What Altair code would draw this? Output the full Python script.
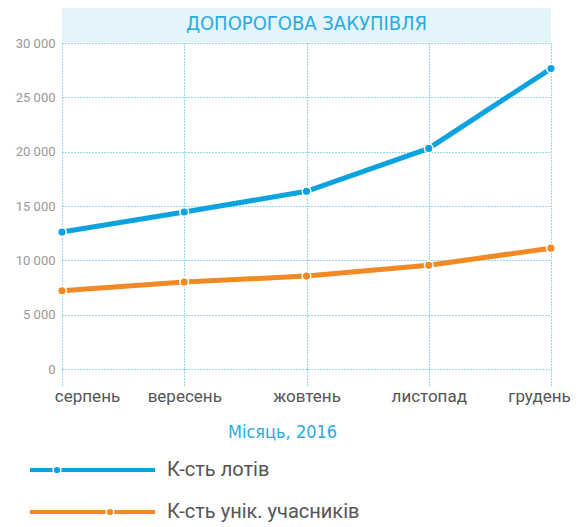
import altair as alt
import pandas as pd

months = ["серпень", "вересень", "жовтень", "листопад", "грудень"]
series = ["К-сть лотів", "К-сть унік. учасників"]
lots = [12600, 14450, 16350, 20300, 27650]
participants = [7200, 8000, 8550, 9550, 11120]
y_ticks = [0, 5000, 10000, 15000, 20000, 25000, 30000]
title_text = "ДОПОРОГОВА ЗАКУПІВЛЯ"
x_title = "Місяць, 2016"
colors = ["#0aa3df", "#f18a24"]

df = pd.DataFrame({
    "month": months * 2,
    "series": [series[0]] * len(months) + [series[1]] * len(months),
    "value": lots + participants,
})

W, H = 489, 326
GRID = "#2db0e6"
ACCENT = "#29abe2"
FONT = "Roboto"
COND_FONT = "'Liberation Sans Narrow', 'DejaVu Sans Condensed', Roboto"

x_enc = alt.X(
    "month:N", sort=months,
    scale=alt.Scale(type="point", padding=0),
    axis=alt.Axis(
        grid=True, gridDash=[1, 2], gridColor=GRID, gridWidth=1,
        domain=False, ticks=True, tickSize=17, tickDash=[1, 2], tickColor=GRID,
        labelAngle=0, labelFontSize=17, labelColor="#555555", labelFont=FONT,
        labelPadding=2,
        labelOffset={"condition": [
            {"test": f"datum.value === '{months[0]}'", "value": 25},
            {"test": f"datum.value === '{months[-1]}'", "value": -12},
        ], "value": 0},
        title=x_title, titleColor=ACCENT, titleFontSize=18, titleFontWeight="normal",
        titleFont=COND_FONT, titleX=220, titlePadding=19,
    ),
)
y_enc = alt.Y(
    "value:Q",
    scale=alt.Scale(domain=[0, 30000], nice=False),
    axis=alt.Axis(
        values=y_ticks, grid=True, gridDash=[1, 2], gridColor=GRID, gridWidth=1,
        domain=False, ticks=False, labelPadding=7, labelFontSize=13,
        labelColor="#999999", labelFont=FONT, title=None,
        labelExpr="replace(format(datum.value, ','), ',', ' ')",
    ),
)
color_enc = alt.Color("series:N", scale=alt.Scale(domain=series, range=colors), legend=None)

base = alt.Chart(df).encode(x=x_enc, y=y_enc, color=color_enc)
lines = base.mark_line(strokeWidth=5)
points = base.mark_circle(size=75, opacity=1, stroke="white", strokeWidth=1.5)

band_data = alt.Data(values=[{"t": title_text}])
band = alt.Chart(band_data).mark_rect(color="#e4f4fb").encode(
    x=alt.value(0), x2=alt.value(W), y=alt.value(-35), y2=alt.value(-1)
)
title = alt.Chart(band_data).mark_text(
    color=ACCENT, fontSize=20, font=COND_FONT, align="center", baseline="middle"
).encode(x=alt.value(W / 2), y=alt.value(-19), text="t:N")

main = alt.layer(band, title, lines, points).properties(width=W, height=H)

leg_df = pd.DataFrame({"series": series})
leg_y = alt.Y("series:N", sort=series, scale=alt.Scale(type="point", padding=0), axis=None)
leg_color = alt.Color("series:N", scale=alt.Scale(domain=series, range=colors), legend=None)
leg_base = alt.Chart(leg_df).encode(y=leg_y, color=leg_color)
leg_rule = leg_base.mark_rule(strokeWidth=4).encode(x=alt.value(-32), x2=alt.value(93))
leg_dot1 = leg_base.transform_filter(alt.datum.series == series[0]).mark_circle(
    size=60, opacity=1, stroke="white", strokeWidth=1.5).encode(x=alt.value(-5))
leg_dot2 = leg_base.transform_filter(alt.datum.series == series[1]).mark_circle(
    size=60, opacity=1, stroke="white", strokeWidth=1.5).encode(x=alt.value(48))
leg_text = alt.Chart(leg_df).mark_text(
    align="left", baseline="middle", fontSize=20, color="#555555", font=FONT
).encode(y=leg_y, x=alt.value(105), text="series:N")

legend = alt.layer(leg_rule, leg_dot1, leg_dot2, leg_text).properties(width=W, height=42)

chart = alt.vconcat(main, legend, spacing=19).resolve_scale(
    x="independent", y="independent"
).properties(
    padding={"left": 7, "top": 0, "right": 0, "bottom": 0}
).configure(font=FONT).configure_view(stroke=None)

chart.save("out.html", embed_options={"renderer": "svg", "actions": False})
